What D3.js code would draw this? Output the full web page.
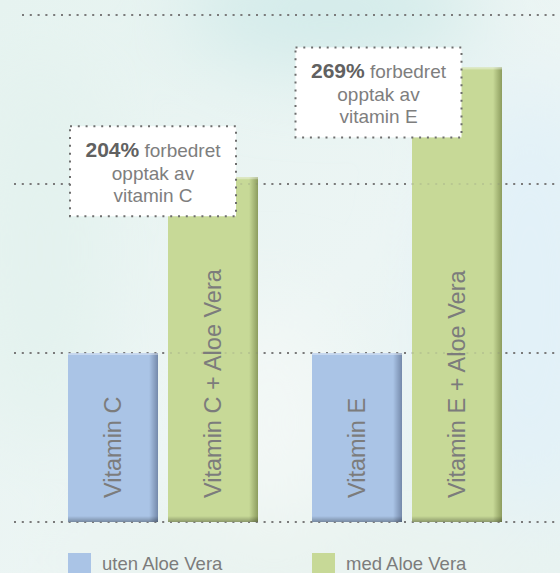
<!DOCTYPE html>
<html>
<head>
<meta charset="utf-8">
<script src="https://cdn.jsdelivr.net/npm/d3@7"></script>
<style>
  html, body { margin: 0; padding: 0; background: #eaf4f2; }
  #chart { width: 560px; height: 573px; overflow: hidden; }
  text { font-family: "Liberation Sans", Arial, sans-serif; }
</style>
</head>
<body>
<div id="chart"></div>
<script>
// Chart data
// ===========================
var categories = ["Vitamin C", "Vitamin E"];
var seriesNames = ["uten Aloe Vera", "med Aloe Vera"];
var utenValues = [100, 100];
var medValues = [204, 269];
var barLabels = [
  ["Vitamin C", "Vitamin C + Aloe Vera"],
  ["Vitamin E", "Vitamin E + Aloe Vera"]
];
var gridTicks = [0, 100, 200, 300];
var calloutPercents = ["204%", "269%"];
var calloutLines = [
  ["forbedret", "opptak av", "vitamin C"],
  ["forbedret", "opptak av", "vitamin E"]
];

// Canvas
// ===========================
var width = 560;
var height = 573;

var svg = d3.select("#chart")
  .append("svg")
  .attr("width", width)
  .attr("height", height);

var defs = svg.append("defs");

// soft background blotches
var blur = defs.append("filter").attr("id", "soft")
  .attr("x", "-50%").attr("y", "-50%").attr("width", "200%").attr("height", "200%");
blur.append("feGaussianBlur").attr("stdDeviation", 40);

var bgGrad = defs.append("linearGradient").attr("id", "bgGrad")
  .attr("x1", 0).attr("y1", 0).attr("x2", 1).attr("y2", 1);
bgGrad.append("stop").attr("offset", "0%").attr("stop-color", "#e6f3f0");
bgGrad.append("stop").attr("offset", "55%").attr("stop-color", "#ecf5f4");
bgGrad.append("stop").attr("offset", "100%").attr("stop-color", "#e8f3f1");

svg.append("rect").attr("width", width).attr("height", height).attr("fill", "url(#bgGrad)");

var bg = svg.append("g").attr("filter", "url(#soft)");
bg.append("ellipse").attr("cx", 330).attr("cy", 10).attr("rx", 150).attr("ry", 60).attr("fill", "#d3ebea");
bg.append("ellipse").attr("cx", 530).attr("cy", 300).attr("rx", 90).attr("ry", 220).attr("fill", "#e2f1f8");
bg.append("ellipse").attr("cx", 270).attr("cy", 420).attr("rx", 70).attr("ry", 120).attr("fill", "#f3f8f6");
bg.append("ellipse").attr("cx", 40).attr("cy", 250).attr("rx", 60).attr("ry", 200).attr("fill", "#e3f2ee");
bg.append("ellipse").attr("cx", 300).attr("cy", 560).attr("rx", 260).attr("ry", 40).attr("fill", "#e9f3ef");

// Bar gradients
function barGradient(id, base, dark) {
  var g = defs.append("linearGradient").attr("id", id)
    .attr("x1", 0).attr("y1", 0).attr("x2", 1).attr("y2", 0);
  g.append("stop").attr("offset", "0%").attr("stop-color", base);
  g.append("stop").attr("offset", "90%").attr("stop-color", base);
  g.append("stop").attr("offset", "100%").attr("stop-color", dark);
}
barGradient("blueGrad", "#aac4e6", "#7489aa");
barGradient("greenGrad", "#c7d997", "#8c9c5e");

var bottomGrad = defs.append("linearGradient").attr("id", "bottomGrad")
  .attr("x1", 0).attr("y1", 0).attr("x2", 0).attr("y2", 1);
bottomGrad.append("stop").attr("offset", "0%").attr("stop-color", "#000").attr("stop-opacity", 0);
bottomGrad.append("stop").attr("offset", "100%").attr("stop-color", "#000").attr("stop-opacity", 0.3);

var fills = ["url(#blueGrad)", "url(#greenGrad)"];
var legendColors = ["#aac4e6", "#c7d997"];

// Scales
// ===========================
var yScale = d3.scaleLinear()
  .domain([0, 300])
  .range([522, 15]);

var xScale = d3.scaleBand()
  .domain(categories)
  .range([68, 502])
  .paddingInner(54 / 244)
  .paddingOuter(0);

var xSub = d3.scaleBand()
  .domain([0, 1])
  .range([0, xScale.bandwidth()])
  .paddingInner(0.1)
  .paddingOuter(0);

// Gridlines
// ===========================
function drawGrid(opacity) {
  svg.append("g")
    .selectAll("line")
    .data(gridTicks)
    .enter()
    .append("line")
    .attr("x1", function(d, i) { return i === gridTicks.length - 1 ? 22 : 14; })
    .attr("x2", width)
    .attr("y1", function(d) { return yScale(d); })
    .attr("y2", function(d) { return yScale(d); })
    .attr("stroke", "#7a7a7a")
    .attr("stroke-width", 2)
    .attr("stroke-dasharray", "2 5.8")
    .attr("opacity", opacity);
}
drawGrid(1);

// Bars
// ===========================
var rows = [];
categories.forEach(function(c, i) {
  rows.push({ cat: c, s: 0, value: utenValues[i], label: barLabels[i][0] });
  rows.push({ cat: c, s: 1, value: medValues[i], label: barLabels[i][1] });
});

var bars = svg.append("g").selectAll("g").data(rows).enter().append("g");

bars.append("rect")
  .attr("x", function(d) { return xScale(d.cat) + xSub(d.s); })
  .attr("y", function(d) { return yScale(d.value); })
  .attr("width", xSub.bandwidth())
  .attr("height", function(d) { return yScale(0) - yScale(d.value); })
  .attr("fill", function(d) { return fills[d.s]; });

// top highlight
bars.append("rect")
  .attr("x", function(d) { return xScale(d.cat) + xSub(d.s); })
  .attr("y", function(d) { return yScale(d.value); })
  .attr("width", xSub.bandwidth())
  .attr("height", 2)
  .attr("fill", "#fff")
  .attr("opacity", 0.35);

// bottom shade
bars.append("rect")
  .attr("x", function(d) { return xScale(d.cat) + xSub(d.s); })
  .attr("y", yScale(0) - 6)
  .attr("width", xSub.bandwidth())
  .attr("height", 6)
  .attr("fill", "url(#bottomGrad)");

bars.append("text")
  .attr("transform", function(d) {
    var cx = xScale(d.cat) + xSub(d.s) + xSub.bandwidth() / 2 + 8;
    return "translate(" + cx + "," + (yScale(0) - 24) + ") rotate(-90)";
  })
  .attr("font-size", 23.5)
  .attr("fill", "#7c7c7c")
  .text(function(d) { return d.label; });

// faint gridlines on top of bars
drawGrid(0.18);

// Callouts
// ===========================
var calloutLayout = [
  { dx: 85, dy: -51 },
  { dx: 66.5, dy: -20 }
];
var boxW = 166, boxH = 90;

var callouts = svg.append("g").selectAll("g").data(categories).enter().append("g")
  .attr("transform", function(d, i) {
    var cx = xScale(d) + calloutLayout[i].dx;
    var top = yScale(medValues[i]) + calloutLayout[i].dy;
    return "translate(" + cx + "," + top + ")";
  });

callouts.append("rect")
  .attr("x", -boxW / 2)
  .attr("y", 0)
  .attr("width", boxW)
  .attr("height", boxH)
  .attr("fill", "#fff");

callouts.append("rect")
  .attr("x", -boxW / 2)
  .attr("y", 0)
  .attr("width", boxW)
  .attr("height", boxH)
  .attr("fill", "none")
  .attr("stroke", "#6e6e6e")
  .attr("stroke-width", 2)
  .attr("stroke-dasharray", "2 5.8");

var firstLine = callouts.append("text")
  .attr("text-anchor", "middle")
  .attr("y", 31)
  .attr("font-size", 19)
  .attr("fill", "#7e7e7e");
firstLine.append("tspan")
  .attr("font-weight", "bold")
  .attr("font-size", 21)
  .attr("fill", "#616161")
  .text(function(d, i) { return calloutPercents[i]; });
firstLine.append("tspan")
  .text(function(d, i) { return " " + calloutLines[i][0]; });

[1, 2].forEach(function(k) {
  callouts.append("text")
    .attr("text-anchor", "middle")
    .attr("y", 31 + k * 22.5)
    .attr("font-size", 19)
    .attr("fill", "#7e7e7e")
    .text(function(d, i) { return calloutLines[i][k]; });
});

// Legend
// ===========================
var legend = svg.append("g").selectAll("g").data(seriesNames).enter().append("g")
  .attr("transform", function(d, i) {
    return "translate(" + xScale(categories[i]) + ",553)";
  });

legend.append("rect")
  .attr("width", 23)
  .attr("height", 22)
  .attr("fill", function(d, i) { return legendColors[i]; });

legend.append("text")
  .attr("x", 34)
  .attr("y", 16.5)
  .attr("font-size", 18.5)
  .attr("fill", "#7c7c7c")
  .text(function(d) { return d; });
</script>
</body>
</html>
